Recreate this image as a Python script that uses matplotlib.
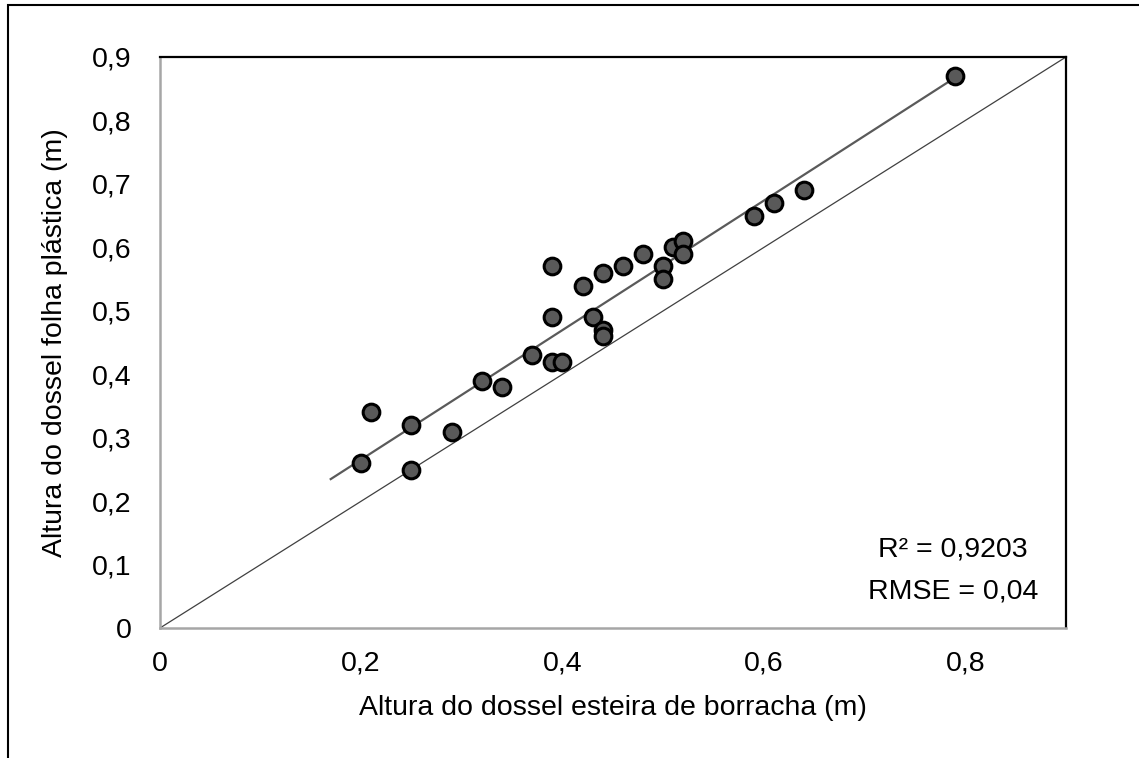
import numpy as np
import matplotlib as mpl

mpl.use('agg')

import matplotlib.pyplot as plt

plt.rcParams['font.family'] = ['Liberation Sans', 'DejaVu Sans']

# canopy height, rubber mat (x) vs plastic sheet (y), in metres
esteira = [0.20, 0.21, 0.25, 0.25, 0.29, 0.32, 0.34, 0.37, 0.39, 0.40,
           0.39, 0.39, 0.42, 0.43, 0.44, 0.44, 0.44, 0.46, 0.48, 0.50,
           0.50, 0.51, 0.52, 0.52, 0.59, 0.61, 0.64, 0.79]
folha = [0.26, 0.34, 0.32, 0.25, 0.31, 0.39, 0.38, 0.43, 0.42, 0.42,
         0.57, 0.49, 0.54, 0.49, 0.47, 0.46, 0.56, 0.57, 0.59, 0.57,
         0.55, 0.60, 0.61, 0.59, 0.65, 0.67, 0.69, 0.87]

x_ticks = [0, 0.2, 0.4, 0.6, 0.8]
y_ticks = [0, 0.1, 0.2, 0.3, 0.4, 0.5, 0.6, 0.7, 0.8, 0.9]
linha_1_1 = [0, 0.9]
r2_txt = 'R² = 0,9203'
rmse_txt = 'RMSE = 0,04'

x = np.array(esteira)
y = np.array(folha)

fig = plt.figure(figsize=(11.39, 7.58), dpi=100)
ax = fig.add_axes([159.5 / 1139, 1 - 628.3 / 758, (1066 - 159.5) / 1139, (628.3 - 57) / 758])

# 1:1 line
ax.plot(linha_1_1, linha_1_1, color='#404040', lw=0.9, zorder=2)

# linear trendline (excel style, backward forecast a bit)
a, b = np.polyfit(x, y, 1)
xt = np.array([x.min() - 0.03, x.max()])
ax.plot(xt, a * xt + b, color='#5a5a5a', lw=1.6, zorder=2)

ax.plot(x, y, 'o', ms=12, mfc='#595959', mec='black', mew=2.2, zorder=3)

ax.set_xlim(0, 0.9)
ax.set_ylim(0, 0.9)
ax.set_xticks(x_ticks)
ax.set_yticks(y_ticks)
ax.set_xticklabels([('%g' % v).replace('.', ',') for v in x_ticks])
ax.set_yticklabels([('%g' % v).replace('.', ',') for v in y_ticks])
ax.tick_params(length=0, labelsize=20.5, colors='black')
ax.tick_params(axis='x', pad=16)
ax.tick_params(axis='y', pad=20)

for s in ['left', 'bottom']:
    ax.spines[s].set_color('#a6a6a6')
    ax.spines[s].set_linewidth(1.8)
for s in ['top', 'right']:
    ax.spines[s].set_color('black')
    ax.spines[s].set_linewidth(1.6)

ax.set_xlabel('Altura do dossel esteira de borracha (m)', fontsize=20.5, labelpad=13)
ax.set_ylabel('Altura do dossel folha plástica (m)', fontsize=20.5, labelpad=17)

ax.text(953 / 1139, 1 - 549 / 758, r2_txt, transform=fig.transFigure,
        ha='center', va='center', fontsize=20.5)
ax.text(953 / 1139, 1 - 592 / 758, rmse_txt, transform=fig.transFigure,
        ha='center', va='center', fontsize=20.5)

# outer chart border
fig.patches.append(plt.Rectangle((8 / 1139, -0.01), 1.1, 1 - 5 / 758 + 0.01,
                                 transform=fig.transFigure, fill=False,
                                 edgecolor='black', lw=1.5))

fig.savefig('out.png', dpi=100)
